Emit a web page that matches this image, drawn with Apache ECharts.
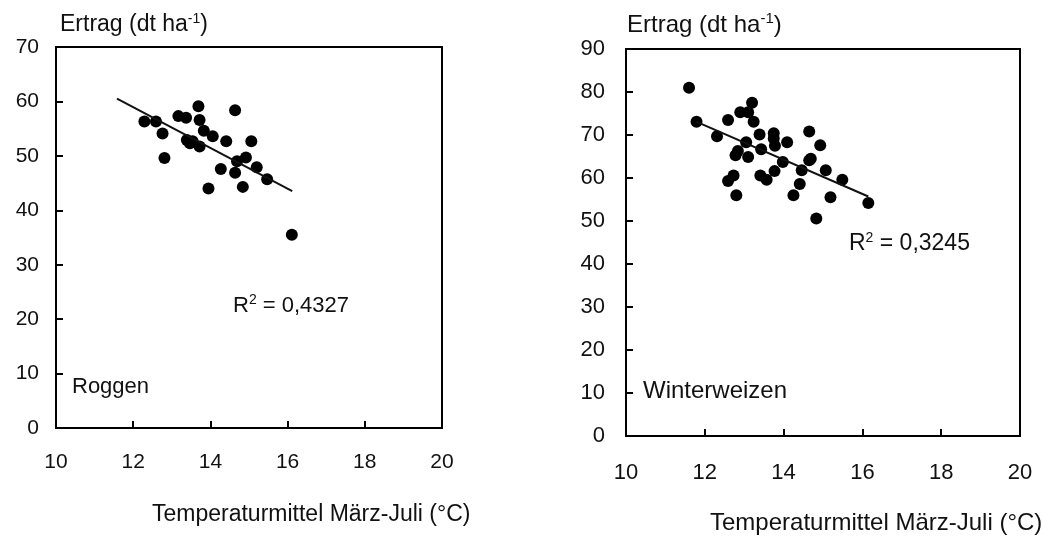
<!DOCTYPE html>
<html>
<head>
<meta charset="utf-8">
<script src="https://cdn.jsdelivr.net/npm/echarts@6/dist/echarts.min.js"></script>
<style>
  html, body { margin: 0; padding: 0; background: #fff; }
  #main { width: 1043px; height: 536px; }
</style>
</head>
<body>
<div id="main"></div>
<script>
// Roggen: Temperatur (°C) und Ertrag (dt/ha)
var ryeTemp  = [12.29, 12.59, 12.76, 12.81, 13.17, 13.37, 13.69, 13.72, 13.83, 14.06, 13.39, 13.54, 13.47,
                13.72, 14.41, 14.64, 15.06, 14.69, 14.92, 15.20, 14.27, 14.64, 15.47, 13.95, 14.84, 16.11];
var ryeYield = [56.3, 56.3, 54.1, 49.6, 57.3, 57.0, 59.1, 56.6, 54.6, 53.6, 52.9, 52.7, 52.3,
                51.7, 52.7, 58.4, 52.7, 49.0, 49.7, 47.9, 47.6, 46.9, 45.7, 44.0, 44.3, 35.5];
var ryeTrendX = [11.58, 16.12];
var ryeTrendY = [60.5, 43.5];

// Winterweizen
var wheatTemp  = [11.60, 11.79, 12.31, 12.59, 12.90, 13.10, 13.20, 13.24, 13.05, 12.84, 12.78, 13.10,
                  13.39, 13.43, 13.75, 13.75, 13.78, 14.09, 13.98, 12.73, 12.59, 12.80, 13.41, 13.57,
                  13.77, 14.25, 14.41, 14.46, 14.65, 14.69, 14.65, 14.93, 15.07, 15.49, 15.19, 14.83, 16.15];
var wheatYield = [81.0, 73.1, 69.7, 73.5, 75.3, 75.3, 77.5, 73.1, 68.3, 66.3, 65.3, 64.9,
                  70.1, 66.7, 70.4, 69.2, 67.5, 68.3, 63.7, 60.6, 59.3, 56.0, 60.6, 59.6,
                  61.6, 56.0, 58.6, 61.8, 64.1, 64.5, 70.8, 67.6, 61.8, 59.6, 55.5, 50.6, 54.2];
var wheatTrendX = [11.78, 16.15];
var wheatTrendY = [73.1, 55.7];

function pairs(xs, ys) {
    return xs.map(function (x, i) { return [x, ys[i]]; });
}

var myChart = echarts.init(document.getElementById('main'));

var font = 'Liberation Sans, Arial, sans-serif';
var ink = '#111';

function xAxisCfg(gridIndex, margin, size) {
    return {
        gridIndex: gridIndex, type: 'value', min: 10, max: 20, interval: 2,
        axisLine: { onZero: false, lineStyle: { color: '#000', width: 2 } },
        axisTick: { inside: true, length: 7, lineStyle: { color: '#000', width: 2 } },
        axisLabel: { margin: margin, color: ink, fontSize: size, fontFamily: font },
        splitLine: { show: false }
    };
}
function yAxisCfg(gridIndex, max, margin, size) {
    return {
        gridIndex: gridIndex, type: 'value', min: 0, max: max, interval: 10,
        axisLine: { onZero: false, lineStyle: { color: '#000', width: 2 } },
        axisTick: { inside: true, length: 7, lineStyle: { color: '#000', width: 2 } },
        axisLabel: { margin: margin, color: ink, fontSize: size, fontFamily: font },
        splitLine: { show: false }
    };
}

function richText(size) {
    return {
        color: ink, fontFamily: font, fontWeight: 'normal',
        rich: {
            a: { fontSize: size, fontFamily: font, color: ink, verticalAlign: 'bottom', lineHeight: size + 4 },
            s: { fontSize: Math.round(size * 0.62), fontFamily: font, color: ink, verticalAlign: 'bottom',
                 padding: [0, 0, Math.round(size * 0.45), 0] }
        }
    };
}
function plain(size) {
    return { color: ink, fontSize: size, fontWeight: 'normal', fontFamily: font };
}

var option = {
    animation: false,
    title: [
        { text: '{a|Ertrag (dt ha}{s|-1}{a|)}', left: 60, top: 9, padding: 0, textStyle: richText(23) },
        { text: '{a|Ertrag (dt ha}{s|-1}{a|)}', left: 627, top: 9, padding: 0, textStyle: richText(24) },
        { text: '{a|R}{s|2}{a| = 0,4327}', left: 233, top: 291, padding: 0, textStyle: richText(22) },
        { text: '{a|R}{s|2}{a| = 0,3245}', left: 849, top: 228, padding: 0, textStyle: richText(23) },
        { text: 'Roggen', left: 72, top: 376, padding: 0, textStyle: plain(22) },
        { text: 'Winterweizen', left: 643, top: 379, padding: 0, textStyle: plain(24) },
        { text: 'Temperaturmittel März-Juli (°C)', left: 152, top: 503, padding: 0, textStyle: plain(23) },
        { text: 'Temperaturmittel März-Juli (°C)', left: 710, top: 511, padding: 0, textStyle: plain(24) }
    ],
    grid: [
        { left: 56, top: 47, width: 386, height: 381, show: true, borderColor: '#000', borderWidth: 2 },
        { left: 626, top: 49, width: 394, height: 387, show: true, borderColor: '#000', borderWidth: 2 }
    ],
    xAxis: [xAxisCfg(0, 24, 21), xAxisCfg(1, 26, 22)],
    yAxis: [yAxisCfg(0, 70, 17, 21), yAxisCfg(1, 90, 21, 22)],
    series: [
        {
            type: 'scatter', xAxisIndex: 0, yAxisIndex: 0,
            symbolSize: 12, itemStyle: { color: '#000', opacity: 1 },
            data: pairs(ryeTemp, ryeYield)
        },
        {
            type: 'line', xAxisIndex: 0, yAxisIndex: 0, showSymbol: false,
            lineStyle: { color: '#111', width: 2 },
            data: pairs(ryeTrendX, ryeTrendY)
        },
        {
            type: 'scatter', xAxisIndex: 1, yAxisIndex: 1,
            symbolSize: 12, itemStyle: { color: '#000', opacity: 1 },
            data: pairs(wheatTemp, wheatYield)
        },
        {
            type: 'line', xAxisIndex: 1, yAxisIndex: 1, showSymbol: false,
            lineStyle: { color: '#111', width: 2 },
            data: pairs(wheatTrendX, wheatTrendY)
        }
    ]
};

myChart.setOption(option);
window.onresize = myChart.resize;
</script>
</body>
</html>
